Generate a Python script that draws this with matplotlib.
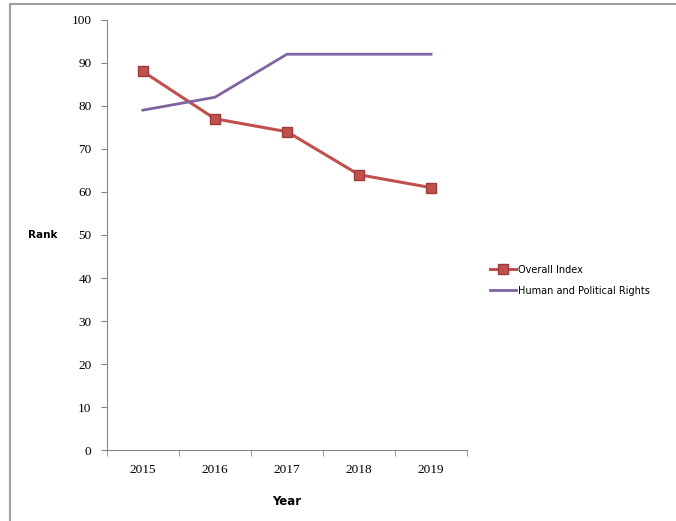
import numpy as np
import matplotlib
matplotlib.use("Agg")
import matplotlib.pyplot as plt
from matplotlib.lines import Line2D

years = ["2015", "2016", "2017", "2018", "2019"]
overall_index = [88, 77, 74, 64, 61]
political_rights = [79, 82, 92, 92, 92]


def main():
    plt.rcParams['font.family'] = ['Liberation Serif', 'DejaVu Serif']
    fig = plt.figure(figsize=(6.76, 5.21), dpi=100)
    ax = fig.add_axes([0.158, 0.136, 0.533, 0.826])

    x = np.arange(len(years))
    ax.plot(x, overall_index, color='#C0504D', lw=2.2, marker='s', ms=7,
            mfc='#C0504D', mec='#A03a38', label='Overall Index')
    ax.plot(x, political_rights, color='#8064A2', lw=2.0,
            label='Human and Political Rights')

    ax.set_xlim(-0.5, len(years) - 0.5)
    ax.set_ylim(0, 100)
    ax.set_yticks(np.arange(0, 101, 10))
    ax.set_xticks(x)
    ax.set_xticklabels(years)
    ax.set_xticks(np.arange(-0.5, len(years), 1), minor=True)
    ax.tick_params(axis='x', which='major', length=0, pad=10, labelsize=9.5)
    ax.tick_params(axis='x', which='minor', length=4, color='#868686')
    ax.tick_params(axis='y', length=4, color='#868686', labelsize=9.5, pad=7)

    for side in ['top', 'right']:
        ax.spines[side].set_visible(False)
    for side in ['left', 'bottom']:
        ax.spines[side].set_color('#868686')

    ax.set_xlabel('Year', fontsize=8.5, fontweight='bold', family='DejaVu Sans', labelpad=14)
    ax.set_ylabel('Rank', fontsize=7.5, fontweight='bold', family='DejaVu Sans',
                  rotation=0, labelpad=21, va='center')

    ax.legend(loc='center left', bbox_to_anchor=(1.04, 0.395), frameon=False,
              prop={'family': 'DejaVu Sans', 'size': 7}, handlelength=2.6,
              handletextpad=0.3, labelspacing=1.1)

    # frame around the figure
    fig.add_artist(Line2D([0.015, 1.0], [0.992, 0.992], color='#a0a0a0', lw=1.5,
                          transform=fig.transFigure))
    fig.add_artist(Line2D([0.015, 0.015], [0.0, 0.992], color='#a0a0a0', lw=1.5,
                          transform=fig.transFigure))

    fig.savefig('out.png', dpi=100)


if __name__ == "__main__":
    main()
